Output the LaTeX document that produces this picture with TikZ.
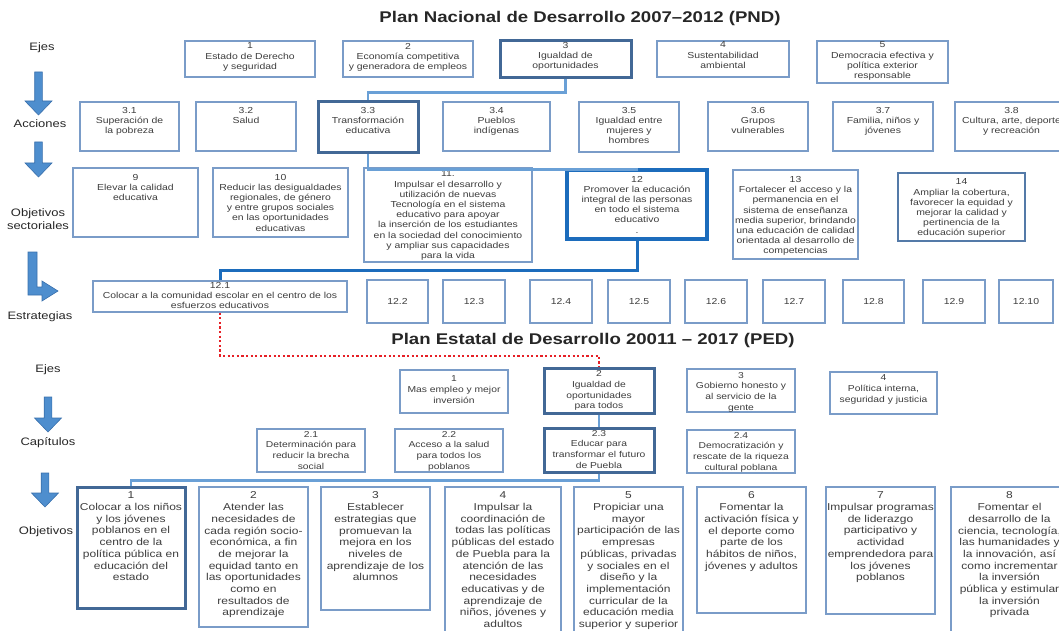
\documentclass[tikz,border=0pt]{standalone}
\usepackage{fontspec}
\setmainfont{Liberation Sans}[FakeStretch=1.2]
\usepackage{tikz}

\definecolor{boxline}{RGB}{122,156,200}
\definecolor{boxdark}{RGB}{66,104,150}
\definecolor{boxbright}{RGB}{28,108,188}
\definecolor{boxmid}{RGB}{84,122,168}
\definecolor{linklight}{RGB}{106,160,214}
\definecolor{txt}{RGB}{62,62,62}
\definecolor{arrowfill}{RGB}{78,142,206}
\definecolor{arrowline}{RGB}{58,112,172}
\definecolor{dotred}{RGB}{230,32,38}

\tikzset{
  toppad/.store in=\boxpad, toppad=3pt,
  box/.style={draw=boxline,line width=1.3pt,fill=white,inner sep=0pt,text=txt,
    font=\fontsize{8.7}{10.2}\selectfont},
  boxdark/.style={draw=boxdark,line width=3pt},
  boxbright/.style={draw=boxbright,line width=3.2pt},
  boxmid/.style={draw=boxmid,line width=1.8pt},
  pedbox/.style={font=\fontsize{8.6}{10.8}\selectfont},
  objbox/.style={font=\fontsize{10}{11.7}\selectfont,toppad=5pt},
  title/.style={font=\fontsize{15.5}{18}\selectfont\bfseries,text=black!85},
  rowlbl/.style={font=\fontsize{10.8}{13}\selectfont,text=black!85},
  linklight/.style={draw=linklight,line width=2.6pt},
  linkblue/.style={draw=boxbright,line width=3pt},
  linkred/.style={draw=dotred,line width=2.2pt,dash pattern=on 2.2pt off 2.4pt},
  blockarrow/.style={fill=arrowfill,draw=arrowline,line width=0.6pt},
}

% box from (x1,y1) to (x2,y2), text hung from the top
\newcommand{\plbox}[7][]{%
  \pgfmathsetlengthmacro\plw{#5-#3}%
  \pgfmathsetlengthmacro\plh{#6-#4}%
  \node[box,#1] (#2) at ({(#3+#5)/2},{(#4+#6)/2})
    {\parbox[c][\plh][t]{\plw}{\centering\vspace*{\boxpad}#7\par}};%
}

\begin{document}
\begin{tikzpicture}[x=1pt,y=-1pt]
  \useasboundingbox (0,0) rectangle (1059,631);

  % titles
  \node[title] (tPND) at (580,18) {Plan Nacional de Desarrollo 2007–2012 (PND)};
  \node[title] (tPED) at (593,340) {Plan Estatal de Desarrollo 20011 – 2017 (PED)};

  % row labels
  \node[rowlbl] (lEjesA) at (42,48) {Ejes};
  \node[rowlbl] (lAcc) at (40,124) {Acciones};
  \node[rowlbl,align=center] (lObjS) at (38,219) {Objetivos\\sectoriales};
  \node[rowlbl] (lEst) at (40,317) {Estrategias};
  \node[rowlbl] (lEjesB) at (48,370) {Ejes};
  \node[rowlbl] (lCap) at (48,443) {Capítulos};
  \node[rowlbl] (lObj) at (46,532) {Objetivos};

  % block arrows
  \foreach \ax/\ya/\yb in {38.5/72/115, 38.5/142/177, 48/397/432, 45/473/507} {
    \filldraw[blockarrow] (\ax-3.8,\ya) -- (\ax+3.8,\ya) -- (\ax+3.8,\yb-14)
      -- (\ax+13.5,\yb-14) -- (\ax,\yb) -- (\ax-13.5,\yb-14) -- (\ax-3.8,\yb-14) -- cycle;
  }
  \filldraw[blockarrow] (28,252) -- (37,252) -- (37,287) -- (42,287) -- (42,281)
    -- (58,291) -- (42,301) -- (42,295) -- (28,295) -- cycle;

  % PND: ejes
  \plbox[toppad=2pt]{e1}{185}{41}{315}{77}{1\\Estado de Derecho\\y seguridad}
  \plbox[toppad=2pt]{e2}{343}{41}{473}{77}{2\\Economía competitiva\\y generadora de empleos}
  \plbox[boxdark,toppad=1.5pt]{e3}{500}{41}{631}{78}{3\\Igualdad de\\oportunidades}
  \plbox[toppad=1pt]{e4}{657}{41}{789}{77}{4\\Sustentabilidad\\ambiental}
  \plbox[toppad=1pt]{e5}{817}{41}{948}{83}{5\\Democracia efectiva y\\política exterior\\responsable}

  % PND: acciones
  \plbox[toppad=5.5pt]{a1}{80}{102}{179}{151}{3.1\\Superación de\\la pobreza}
  \plbox[toppad=5.5pt]{a2}{196}{102}{296}{151}{3.2\\Salud}
  \plbox[boxdark,toppad=5.5pt]{a3}{318}{102}{418}{153}{3.3\\Transformación\\educativa}
  \plbox[toppad=5.5pt]{a4}{443}{102}{550}{151}{3.4\\Pueblos\\indígenas}
  \plbox[toppad=5pt]{a5}{579}{102}{679}{152}{3.5\\Igualdad entre\\mujeres y\\hombres}
  \plbox[toppad=5.5pt]{a6}{708}{102}{808}{151}{3.6\\Grupos\\vulnerables}
  \plbox[toppad=5.5pt]{a7}{833}{102}{933}{151}{3.7\\Familia, niños y\\jóvenes}
  \plbox[toppad=5.5pt]{a8}{955}{102}{1068}{151}{3.8\\Cultura, arte, deporte\\y recreación}

  % PND: objetivos sectoriales
  \plbox[toppad=6pt]{o9}{73}{168}{198}{237}{9\\Elevar la calidad\\educativa}
  \plbox[toppad=6pt]{o10}{213}{168}{348}{237}{10\\Reducir las desigualdades\\regionales, de género\\y entre grupos sociales\\en las oportunidades\\educativas}
  \plbox[toppad=3pt]{o11}{364}{168}{532}{262}{11.\\Impulsar el desarrollo y\\utilización de nuevas\\Tecnología en el sistema\\educativo para apoyar\\la inserción de los estudiantes\\en la sociedad del conocimiento\\y ampliar sus capacidades\\para la vida}
  \plbox[boxbright,toppad=6pt]{o12}{567}{170}{707}{239}{12\\Promover la educación\\integral de las personas\\en todo el sistema\\educativo\\.}
  \plbox[toppad=6.5pt]{o13}{733}{170}{858}{259}{13\\Fortalecer el acceso y la\\permanencia en el\\sistema de enseñanza\\media superior, brindando\\una educación de calidad\\orientada al desarrollo de\\competencias}
  \plbox[boxmid,toppad=6pt]{o14}{898}{173}{1025}{241}{14\\Ampliar la cobertura,\\favorecer la equidad y\\mejorar la calidad y\\pertinencia de la\\educación superior}

  % PND: estrategias
  \plbox[toppad=1.5pt]{s1}{93}{281}{347}{312}{12.1\\Colocar a la comunidad escolar en el centro de los\\esfuerzos educativos}
  \foreach \n/\xa/\xb in {2/367/428, 3/443/505, 4/530/592, 5/608/670, 6/685/747,
                          7/763/825, 8/843/904, 9/923/985, 10/999/1053}
    \node[box,minimum width={\xb-\xa},minimum height=43] (s\n) at ({(\xa+\xb)/2},301.5) {12.\n};

  % PED: ejes
  \plbox[pedbox,toppad=6pt]{pe1}{400}{370}{508}{413}{1\\Mas empleo y mejor\\inversión}
  \plbox[pedbox,boxdark,toppad=2.5pt]{pe2}{544}{368}{654}{413}{2\\Igualdad de\\oportunidades\\para todos}
  \plbox[pedbox,toppad=3pt]{pe3}{687}{369}{795}{412}{3\\Gobierno honesto y\\al servicio de la\\gente}
  \plbox[pedbox,toppad=3pt]{pe4}{830}{372}{937}{414}{4\\Política interna,\\seguridad y justicia}

  % PED: capitulos
  \plbox[pedbox,toppad=2pt]{pc1}{257}{429}{365}{472}{2.1\\Determinación para\\reducir la brecha\\social}
  \plbox[pedbox,toppad=2pt]{pc2}{395}{429}{503}{472}{2.2\\Acceso a la salud\\para todos los\\poblanos}
  \plbox[pedbox,boxdark,toppad=2pt]{pc3}{544}{428}{654}{472}{2.3\\Educar para\\transformar el futuro\\de Puebla}
  \plbox[pedbox,toppad=2pt]{pc4}{687}{430}{795}{473}{2.4\\Democratización y\\rescate de la riqueza\\cultural poblana}

  % PED: objetivos
  \plbox[objbox,boxdark]{po1}{77}{487}{185}{608}{1\\Colocar a los niños\\y los jóvenes\\poblanos en el\\centro de la\\política pública en\\educación del\\estado}
  \plbox[objbox]{po2}{199}{487}{308}{627}{2\\Atender las\\necesidades de\\cada región socio-\\económica, a fin\\de mejorar la\\equidad tanto en\\las oportunidades\\como en\\resultados de\\aprendizaje}
  \plbox[objbox]{po3}{321}{487}{430}{610}{3\\Establecer\\estrategias que\\promuevan la\\mejora en los\\niveles de\\aprendizaje de los\\alumnos}
  \plbox[objbox]{po4}{445}{487}{561}{637}{4\\Impulsar la\\coordinación de\\todas las políticas\\públicas del estado\\de Puebla para la\\atención de las\\necesidades\\educativas y de\\aprendizaje de\\niños, jóvenes y\\adultos}
  \plbox[objbox]{po5}{574}{487}{683}{635}{5\\Propiciar una\\mayor\\participación de las\\empresas\\públicas, privadas\\y sociales en el\\diseño y la\\implementación\\curricular de la\\educación media\\superior y superior}
  \plbox[objbox]{po6}{697}{487}{806}{613}{6\\Fomentar la\\activación física y\\el deporte como\\parte de los\\hábitos de niños,\\jóvenes y adultos}
  \plbox[objbox]{po7}{826}{487}{935}{614}{7\\Impulsar programas\\de liderazgo\\participativo y\\actividad\\emprendedora para\\los jóvenes\\poblanos}
  \plbox[objbox]{po8}{951}{487}{1068}{640}{8\\Fomentar el\\desarrollo de la\\ciencia, tecnología,\\las humanidades y\\la innovación, así\\como incrementar\\la inversión\\pública y estimular\\la inversión\\privada}

  % connectors
  \draw[linklight] (e3.south) -- ++(0,13) -| (a3.north);
  \draw[linklight] (a3.south) -- ++(0,15) -| (o12.north);
  \draw[linkblue] (o12.south) -- ++(0,30) -| (s1.north);
  \draw[linkred] (s1.south) -- ++(0,43) -| (pe2.north);
  \draw[linklight] (pe2.south) -- (pc3.north);
  \draw[linklight] (pc3.south) -- ++(0,7) -| (po1.north);
\end{tikzpicture}
\end{document}
